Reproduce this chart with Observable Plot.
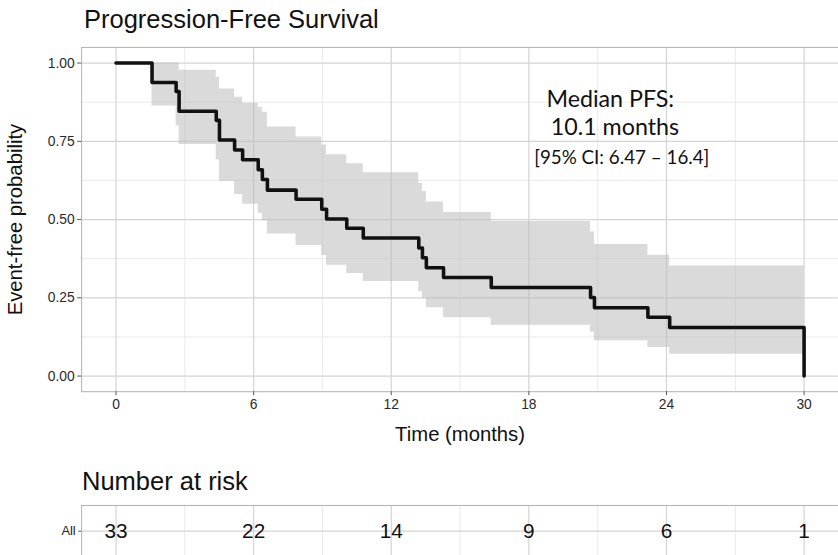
<!DOCTYPE html>
<html><head><meta charset="utf-8">
<script src="https://cdn.jsdelivr.net/npm/d3@7"></script>
<script src="https://cdn.jsdelivr.net/npm/@observablehq/plot@0.6"></script>
<style>
html,body{margin:0;padding:0;background:#fff;}
#wrap{position:relative;width:838px;height:555px;overflow:hidden;font-family:"Liberation Sans",Arial,sans-serif;}
.title{position:absolute;left:84px;top:7px;font-size:25.5px;color:#111;line-height:1;}
.rtitle{position:absolute;left:82px;top:469px;font-size:25.5px;color:#111;line-height:1;}
#main{position:absolute;left:0;top:40px;}
#table{position:absolute;left:0;top:500px;}
#main g[aria-label="y-axis label"] text, #main g[aria-label="x-axis label"] text{font-size:20.5px;fill:#111;}
#main g[aria-label="x-axis tick label"] text, #main g[aria-label="y-axis tick label"] text{font-size:14px;fill:#2a2a2a;}
#table g[aria-label="y-axis tick label"] text{font-size:13px;fill:#222;}
</style></head><body>
<div id="wrap">
  <div class="title">Progression-Free Survival</div>
  <div id="main"></div>
  <div class="rtitle">Number at risk</div>
  <div id="table"></div>
</div>
<script>
// Kaplan–Meier step times (months)
const times = [0, 1.57, 2.62, 2.75, 4.37, 4.51, 5.17, 5.52, 6.2, 6.38, 6.6, 7.85, 8.97, 9.18, 10.06, 10.78, 13.2, 13.36, 13.53, 14.28, 16.36, 20.69, 20.86, 23.19, 24.14, 30];
// Survival estimate
const surv = [1, 0.938, 0.909, 0.846, 0.817, 0.754, 0.722, 0.691, 0.659, 0.628, 0.594, 0.565, 0.533, 0.502, 0.472, 0.441, 0.409, 0.378, 0.346, 0.315, 0.283, 0.251, 0.218, 0.188, 0.155, 0];
// 95% CI bounds
const upper = [1, 1, 1, 0.977, 0.955, 0.917, 0.891, 0.872, 0.858, 0.843, 0.796, 0.764, 0.738, 0.707, 0.678, 0.650, 0.615, 0.590, 0.556, 0.523, 0.494, 0.460, 0.420, 0.386, 0.352, 0.352];
const lower = [1, 0.863, 0.800, 0.740, 0.690, 0.622, 0.580, 0.549, 0.520, 0.496, 0.454, 0.417, 0.385, 0.354, 0.328, 0.302, 0.270, 0.249, 0.218, 0.186, 0.162, 0.140, 0.113, 0.091, 0.070, 0.070];
// Risk table
const riskTimes = [0, 6, 12, 18, 24, 30];
const nRisk = [33, 22, 14, 9, 6, 1];
const strata = ["All"];
// Ticks
const xMajor = [0, 6, 12, 18, 24, 30];
const xMinor = [3, 9, 15, 21, 27];
const yMajor = [0, 0.25, 0.5, 0.75, 1];
const yMinor = [0.125, 0.375, 0.625, 0.875];
// Annotation
const annotLines = ["Median PFS:", "10.1 months", "[95% CI: 6.47 – 16.4]"];
const annotX = [21.55, 21.75, 22.05];
const annotY = [0.883, 0.795, 0.697];
const annotSize = [23.5, 23.5, 19];

const rows = times.map((t, i) => ({t, s: surv[i], lo: lower[i], hi: upper[i]}));
const xDomain = [-1.5, 31.5];

const main = Plot.plot({
  width: 847, height: 410,
  marginLeft: 82, marginRight: 0, marginTop: 7, marginBottom: 55,
  style: {fontFamily: "Liberation Sans, Arial, sans-serif", fontSize: "14px", color: "#333", background: "white", overflow: "visible"},
  x: {domain: xDomain},
  y: {domain: [-0.05, 1.05]},
  marks: [
    Plot.gridX(xMinor, {stroke: "#e6e6e6", strokeOpacity: 1, strokeWidth: 0.9}),
    Plot.gridY(yMinor, {stroke: "#e6e6e6", strokeOpacity: 1, strokeWidth: 0.9}),
    Plot.gridX(xMajor, {stroke: "#d4d4d4", strokeOpacity: 1, strokeWidth: 1.2}),
    Plot.gridY(yMajor, {stroke: "#d4d4d4", strokeOpacity: 1, strokeWidth: 1.2}),
    Plot.areaY(rows, {x: "t", y1: "lo", y2: "hi", curve: "step-after", fill: "#bcbcbc", fillOpacity: 0.55}),
    Plot.line(rows, {x: "t", y: "s", curve: "step-after", stroke: "#111", strokeWidth: 3.6}),
    Plot.frame({stroke: "#b0b0b0"}),
    Plot.axisX(xMajor, {tickSize: 4, tickPadding: 4, stroke: "#555", fontSize: 14, label: "Time (months)", labelAnchor: "center", labelArrow: "none", labelOffset: 50}),
    Plot.axisY(yMajor, {tickSize: 4, tickPadding: 3, stroke: "#555", fontSize: 14, tickFormat: d3.format(".2f"), label: "Event-free probability", labelAnchor: "center", labelArrow: "none", labelOffset: 75}),
    Plot.text(annotLines, {x: (d, i) => annotX[i], y: (d, i) => annotY[i], text: d => d, fontSize: (d, i) => annotSize[i], fontFamily: "Lato, 'Open Sans', sans-serif", fill: "#111", textAnchor: "middle"})
  ]
});
document.getElementById("main").appendChild(main);

const riskRows = riskTimes.map((t, i) => ({t, n: nRisk[i], s: strata[0]}));
const table = Plot.plot({
  width: 847, height: 60,
  marginLeft: 82, marginRight: 0, marginTop: 5, marginBottom: 3,
  style: {fontFamily: "Liberation Sans, Arial, sans-serif", fontSize: "13px", color: "#333", background: "white"},
  x: {domain: xDomain, axis: null},
  y: {type: "band", domain: strata},
  marks: [
    Plot.gridX(xMinor, {stroke: "#e6e6e6", strokeOpacity: 1, strokeWidth: 0.9}),
    Plot.gridX(xMajor, {stroke: "#d4d4d4", strokeOpacity: 1, strokeWidth: 1.2}),
    Plot.gridY(strata, {stroke: "#d4d4d4", strokeOpacity: 1, strokeWidth: 1.2}),
    Plot.frame({stroke: "#b0b0b0"}),
    Plot.axisY({tickSize: 3, tickPadding: 3, stroke: "#555", fontSize: 13, label: null}),
    Plot.text(riskRows, {x: "t", y: "s", text: "n", fontSize: 21, fill: "#111"})
  ]
});
document.getElementById("table").appendChild(table);
</script>
</body></html>
